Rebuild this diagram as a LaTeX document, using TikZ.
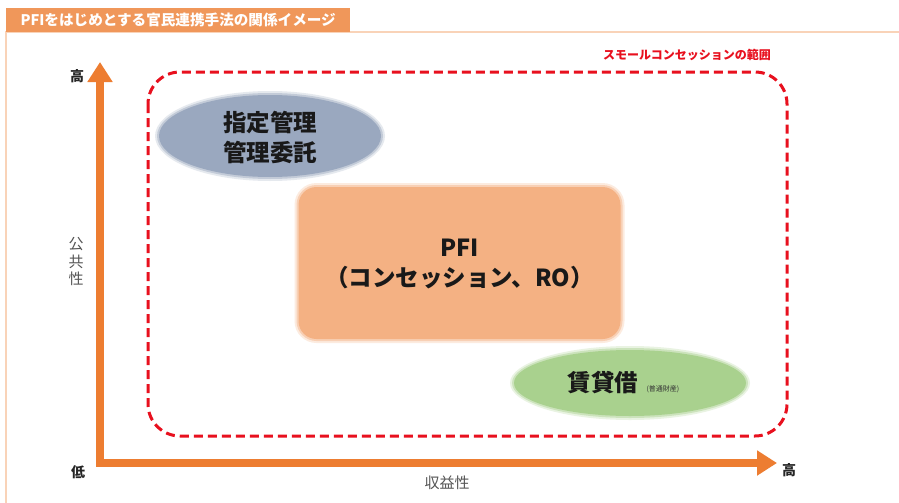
\documentclass[tikz,border=0pt]{standalone}
\usepackage{fontspec}
\setmainfont{Noto Sans CJK JP}
\usetikzlibrary{arrows.meta,shapes.geometric}
\definecolor{tabor}{HTML}{F0975A}
\definecolor{frameor}{HTML}{F9D3B8}
\definecolor{axisor}{HTML}{ED7D31}
\definecolor{dashred}{HTML}{E8101E}
\definecolor{bluegray}{HTML}{9AA8BF}
\definecolor{pfior}{HTML}{F4B183}
\definecolor{greenel}{HTML}{A9D18E}
\definecolor{labgray}{HTML}{555555}
\tikzset{
  axisline/.style={draw=axisor,line width=8pt,line join=miter,
    {Triangle[width=24pt,length=20pt]}-{Triangle[width=24pt,length=20pt]}},
  rangebox/.style={draw=dashred,line width=3pt,dash pattern=on 9pt off 5pt,rounded corners=32pt},
  bigtext/.style={font=\bfseries\fontsize{23.5}{30}\selectfont,align=center,text=black!90},
  axlabel/.style={font=\bfseries\fontsize{14}{16}\selectfont,text=black!85},
  axname/.style={font=\fontsize{15}{17.5}\selectfont,text=labgray,align=center},
  softa/.style={opacity=0.25,inner sep=0pt},
  softb/.style={opacity=0.45,inner sep=0pt}
}
\begin{document}
\begin{tikzpicture}[x=1pt,y=-1pt]
\useasboundingbox (0,0) rectangle (899,503);
\fill[white] (0,0) rectangle (899,503);
% frame
\draw[frameor,line width=1.5pt] (899,32) -- (6,32) -- (6,503);
\node[fill=tabor,minimum width=344pt,minimum height=24pt,inner sep=0pt,anchor=north west] (tab) at (6,8) {};
\node[font=\bfseries\fontsize{14.6}{16}\selectfont,text=white,anchor=west] (title) at (17,20) {PFIをはじめとする官民連携手法の関係イメージ};
% range box
\node[draw=none,minimum width=639pt,minimum height=364pt,inner sep=0pt] (range) at (467.5,254) {};
\draw[rangebox] (148,72) rectangle (787,436);
\node[font=\bfseries\fontsize{12}{14}\selectfont,text=dashred] (rangelabel) at (687,55) {スモールコンセッションの範囲};
% shapes (soft edges)
\node[ellipse,fill=bluegray,softa,minimum width=230pt,minimum height=90pt] (shiteiglowa) at (270,136) {};
\node[ellipse,fill=bluegray,softb,minimum width=226pt,minimum height=86pt] (shiteiglowb) at (270,136) {};
\node[ellipse,fill=bluegray,minimum width=222pt,minimum height=82pt,inner sep=0pt] (shitei) at (270,136) {};
\node[bigtext] (shiteitext) at (270,137) {指定管理\\管理委託};
\node[fill=pfior,softa,rounded corners=22pt,minimum width=330pt,minimum height=160pt] (pfiglowa) at (459.5,263) {};
\node[fill=pfior,softb,rounded corners=20pt,minimum width=326pt,minimum height=156pt] (pfiglowb) at (459.5,263) {};
\node[fill=pfior,rounded corners=18pt,minimum width=322pt,minimum height=152pt,inner sep=0pt] (pfi) at (459.5,263) {};
\node[bigtext] (pfitext) at (459.5,264) {PFI\\（コンセッション、RO）};
\node[ellipse,fill=greenel,softa,minimum width=240pt,minimum height=74pt] (chintaiglowa) at (630,383) {};
\node[ellipse,fill=greenel,softb,minimum width=236pt,minimum height=70pt] (chintaiglowb) at (630,383) {};
\node[ellipse,fill=greenel,minimum width=232pt,minimum height=66pt,inner sep=0pt] (chintai) at (630,383) {};
\node[bigtext,anchor=east] (chintaitext) at (642,383) {賃貸借};
\node[font=\fontsize{7}{8}\selectfont,text=black!80,anchor=west] (futsu) at (643,389) {(普通財産)};
% axes
\coordinate (ytop) at (100,62);
\coordinate (origin) at (100,463);
\coordinate (xend) at (777,463);
\draw[axisline] (ytop) -- (origin) -- (xend);
\node[axlabel] (hightop) at (77,76) {高};
\node[axlabel] (low) at (78,472) {低};
\node[axlabel] (highright) at (789,470) {高};
\node[axname] (public) at (76,262) {公\\共\\性};
\node[axname] (profit) at (447,483) {収益性};
\end{tikzpicture}
\end{document}
